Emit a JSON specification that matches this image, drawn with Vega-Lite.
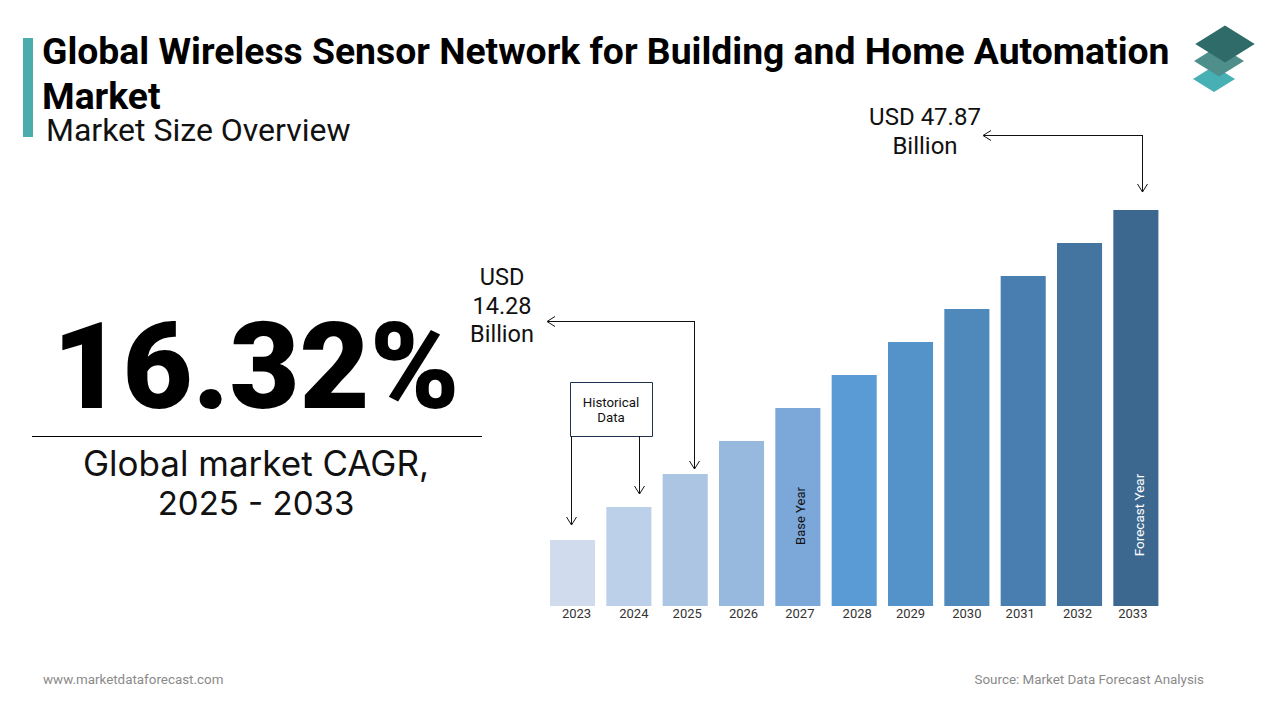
{
  "$schema": "https://vega.github.io/schema/vega-lite/v6.json",
  "description": "Global Wireless Sensor Network for Building and Home Automation Market size by year",
  "width": 1280,
  "height": 720,
  "padding": 0,
  "autosize": "none",
  "background": "#ffffff",
  "config": {"view": {"stroke": null}},
  "data": {"values": [{"kind": "annotation"}]},
  "layer": [
    {
      "data": {"values": [
        {"year": "2023", "size": 7.98},
        {"year": "2024", "size": 11.97},
        {"year": "2025", "size": 15.96},
        {"year": "2026", "size": 19.95},
        {"year": "2027", "size": 23.94},
        {"year": "2028", "size": 27.92},
        {"year": "2029", "size": 31.91},
        {"year": "2030", "size": 35.9},
        {"year": "2031", "size": 39.89},
        {"year": "2032", "size": 43.88},
        {"year": "2033", "size": 47.87}
      ]},
      "mark": {"type": "bar"},
      "encoding": {
        "x": {
          "field": "year",
          "type": "ordinal",
          "scale": {"type": "band", "range": [550, 1158.4], "paddingInner": 0.2, "paddingOuter": 0},
          "axis": {
            "title": null,
            "orient": "bottom",
            "offset": -114,
            "domain": false,
            "ticks": false,
            "grid": false,
            "labelAngle": 0,
            "labelFont": "Roboto",
            "labelFontSize": 13,
            "labelColor": "#333333",
            "labelPadding": 1,
            "labelOffset": {
              "condition": [
                {"test": "datum.value == '2023'", "value": 4},
                {"test": "datum.value == '2024'", "value": 5},
                {"test": "datum.value == '2025'", "value": 2},
                {"test": "datum.value == '2026'", "value": 2},
                {"test": "datum.value == '2027'", "value": 2},
                {"test": "datum.value == '2028'", "value": 3},
                {"test": "datum.value == '2031'", "value": -3},
                {"test": "datum.value == '2032'", "value": -2},
                {"test": "datum.value == '2033'", "value": -3}
              ],
              "value": 0
            }
          }
        },
        "y": {
          "field": "size",
          "type": "quantitative",
          "scale": {"domain": [0, 47.87], "range": [606, 210]},
          "axis": null
        },
        "color": {
          "field": "year",
          "type": "ordinal",
          "legend": null,
          "scale": {"range": ["#d0dcee", "#bdd0e9", "#abc5e3", "#97b9de", "#7ba7d9", "#5b9bd5", "#5493ca", "#4f89bc", "#497fb0", "#4475a0", "#3c6890"]}
        }
      }
    },
    {"mark": {"type": "text", "text": "Base Year", "x": 801, "y": 516, "angle": 270, "align": "center", "baseline": "middle", "font": "Roboto", "fontSize": 13, "color": "#111111"}, "encoding": {}},
    {"mark": {"type": "text", "text": "Forecast Year", "x": 1140, "y": 515, "angle": 270, "align": "center", "baseline": "middle", "font": "Roboto", "fontSize": 13.5, "color": "#ffffff"}, "encoding": {}},

    {"mark": {"type": "rect", "x": 23, "x2": 33, "y": 38, "y2": 137, "color": "#4aacac"}, "encoding": {}},
    {"mark": {"type": "text", "text": ["Global Wireless Sensor Network for Building and Home Automation", "Market"], "x": 42, "y": 64, "align": "left", "baseline": "alphabetic", "font": "Roboto", "fontSize": 37.3, "fontWeight": "bold", "lineHeight": 45, "color": "#000000"}, "encoding": {}},
    {"mark": {"type": "text", "text": "Market Size Overview", "x": 46, "y": 141, "align": "left", "baseline": "alphabetic", "font": "Roboto", "fontSize": 32, "color": "#111111"}, "encoding": {}},

    {"mark": {"type": "point", "shape": "M0,-0.62L1,0L0,0.62L-1,0Z", "x": 1214, "y": 79, "size": 1764, "filled": true, "color": "#46b0b4", "opacity": 1}, "encoding": {}},
    {"mark": {"type": "point", "shape": "M0,-0.62L1,0L0,0.62L-1,0Z", "x": 1219, "y": 61, "size": 2500, "filled": true, "color": "#4f8f8b", "opacity": 1}, "encoding": {}},
    {"mark": {"type": "point", "shape": "M0,-0.62L1,0L0,0.62L-1,0Z", "x": 1225, "y": 44, "size": 3540, "filled": true, "color": "#2f6b68", "opacity": 1}, "encoding": {}},

    {"mark": {"type": "text", "text": "16.32%", "x": 256, "y": 408, "align": "center", "baseline": "alphabetic", "font": "Roboto", "fontSize": 121, "fontWeight": 900, "color": "#000000"}, "encoding": {}},
    {"mark": {"type": "rect", "x": 32, "x2": 482, "y": 436, "y2": 437, "color": "#000000"}, "encoding": {}},
    {"mark": {"type": "text", "text": "Global market CAGR,", "x": 256, "y": 476, "align": "center", "baseline": "alphabetic", "font": "Inter", "fontSize": 35, "color": "#111111"}, "encoding": {}},
    {"mark": {"type": "text", "text": "2025 - 2033", "x": 256, "y": 515, "align": "center", "baseline": "alphabetic", "font": "Inter", "fontSize": 33, "color": "#111111"}, "encoding": {}},

    {"mark": {"type": "text", "text": ["USD 47.87", "Billion"], "x": 925, "y": 125, "align": "center", "baseline": "alphabetic", "font": "Roboto", "fontSize": 24, "lineHeight": 29, "color": "#111111"}, "encoding": {}},
    {"mark": {"type": "rect", "x": 984, "x2": 1143, "y": 135, "y2": 136, "color": "#111111"}, "encoding": {}},
    {"mark": {"type": "rect", "x": 1142, "x2": 1143, "y": 135, "y2": 192, "color": "#111111"}, "encoding": {}},
    {"mark": {"type": "point", "shape": "M1.6,-1L0,0L1.6,1", "x": 983, "y": 135.5, "size": 100, "filled": false, "strokeWidth": 1, "color": "#111111", "opacity": 1}, "encoding": {}},
    {"mark": {"type": "point", "shape": "M-1,-1.6L0,0L1,-1.6", "x": 1142.5, "y": 192, "size": 100, "filled": false, "strokeWidth": 1, "color": "#111111", "opacity": 1}, "encoding": {}},

    {"mark": {"type": "text", "text": ["USD", "14.28", "Billion"], "x": 502, "y": 285, "align": "center", "baseline": "alphabetic", "font": "Roboto", "fontSize": 23.5, "lineHeight": 28.5, "color": "#111111"}, "encoding": {}},
    {"mark": {"type": "rect", "x": 548, "x2": 695, "y": 321, "y2": 322, "color": "#111111"}, "encoding": {}},
    {"mark": {"type": "rect", "x": 694, "x2": 695, "y": 321, "y2": 469, "color": "#111111"}, "encoding": {}},
    {"mark": {"type": "point", "shape": "M1.6,-1L0,0L1.6,1", "x": 547, "y": 321.5, "size": 100, "filled": false, "strokeWidth": 1, "color": "#111111", "opacity": 1}, "encoding": {}},
    {"mark": {"type": "point", "shape": "M-1,-1.6L0,0L1,-1.6", "x": 694.5, "y": 469, "size": 100, "filled": false, "strokeWidth": 1, "color": "#111111", "opacity": 1}, "encoding": {}},

    {"mark": {"type": "rect", "x": 570.5, "x2": 652.5, "y": 382.5, "y2": 436.5, "fill": "#ffffff", "stroke": "#1f3350", "strokeWidth": 1}, "encoding": {}},
    {"mark": {"type": "text", "text": ["Historical", "Data"], "x": 611, "y": 406.5, "align": "center", "baseline": "alphabetic", "font": "Roboto", "fontSize": 13.3, "lineHeight": 15.5, "color": "#111111"}, "encoding": {}},
    {"mark": {"type": "rect", "x": 571, "x2": 572, "y": 436, "y2": 525, "color": "#111111"}, "encoding": {}},
    {"mark": {"type": "rect", "x": 639, "x2": 640, "y": 436, "y2": 494, "color": "#111111"}, "encoding": {}},
    {"mark": {"type": "point", "shape": "M-1,-1.6L0,0L1,-1.6", "x": 571.5, "y": 525, "size": 100, "filled": false, "strokeWidth": 1, "color": "#111111", "opacity": 1}, "encoding": {}},
    {"mark": {"type": "point", "shape": "M-1,-1.6L0,0L1,-1.6", "x": 639.5, "y": 494, "size": 100, "filled": false, "strokeWidth": 1, "color": "#111111", "opacity": 1}, "encoding": {}},

    {"mark": {"type": "text", "text": "www.marketdataforecast.com", "x": 43, "y": 684, "align": "left", "baseline": "alphabetic", "font": "Roboto", "fontSize": 13.4, "color": "#8a8a8a"}, "encoding": {}},
    {"mark": {"type": "text", "text": "Source: Market Data Forecast Analysis", "x": 1204, "y": 684, "align": "right", "baseline": "alphabetic", "font": "Roboto", "fontSize": 13.4, "color": "#8a8a8a"}, "encoding": {}}
  ]
}
